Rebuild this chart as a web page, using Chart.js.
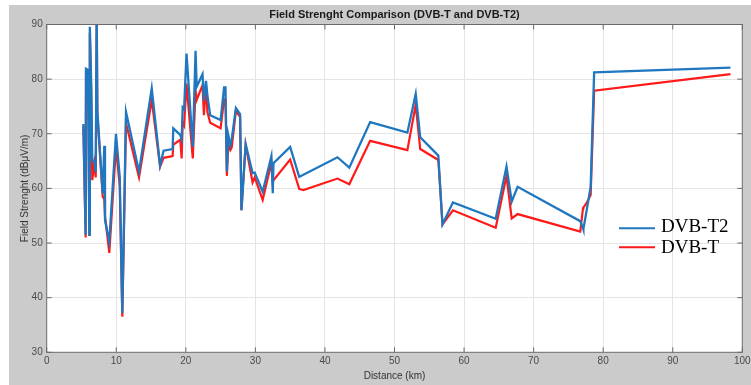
<!DOCTYPE html>
<html><head><meta charset="utf-8">
<script src="https://cdn.jsdelivr.net/npm/chart.js@4"></script>
<style>html,body{margin:0;padding:0;background:#fff;} canvas{display:block;}</style>
</head><body>
<canvas id="c" width="751" height="385"></canvas>
<script>
const distanceKm = [5.27,5.6,5.65,5.95,6.13,6.2,6.4,6.55,6.85,7.05,7.19,7.28,8.05,8.28,8.38,9.0,9.96,10.5,10.87,11.4,13.27,15.1,16.3,16.8,18.1,18.2,19.2,19.4,19.55,19.75,20.1,21.0,21.4,21.56,22.4,22.6,22.9,23.1,23.5,25.0,25.5,25.7,25.9,26.1,26.4,26.6,27.2,27.8,28.0,28.6,29.6,29.9,31.05,32.3,32.5,32.6,35.0,36.3,36.9,41.8,43.5,46.5,51.85,53.05,53.7,56.3,56.9,58.4,64.55,66.1,66.85,67.7,76.7,77.1,77.15,77.6,78.2,78.7,98.3];
const dvbT2 = [71.8,51.5,81.9,81.7,51.5,89.6,78.9,65.2,64.9,63.0,93.0,74.3,59.1,67.8,54.2,50.25,70.0,62.1,37.2,74.0,63.05,78.3,64.2,66.9,67.2,71.0,69.8,69.0,74.8,74.5,84.7,67.6,85.2,78.6,80.9,76.0,79.7,77.0,73.4,72.5,78.5,78.5,63.1,69.8,68.0,69.0,74.7,73.6,56.0,68.1,62.8,62.9,59.4,65.9,59.1,64.6,67.6,62.1,62.5,65.7,63.8,72.15,70.2,77.3,69.35,66.0,53.4,57.45,54.45,64.0,57.6,60.3,54.0,52.7,52.5,55.8,60.3,81.25,82.1];
const dvbT = [71.3,51.0,81.1,80.8,51.5,88.5,77.5,61.5,64.5,62.0,91.0,73.5,58.5,58.0,55.0,48.2,67.6,60.4,36.5,72.0,62.0,76.2,64.0,65.6,65.9,68.0,68.9,65.5,72.0,71.5,79.2,65.5,78.0,76.2,78.9,73.4,78.9,74.0,72.0,71.0,76.3,76.3,62.3,68.0,67.0,67.5,74.2,73.1,56.0,68.0,61.1,62.0,57.9,64.7,61.1,61.5,65.3,59.9,59.7,61.8,60.75,68.7,67.0,75.3,67.2,65.2,53.4,56.0,52.8,62.3,54.5,55.3,52.1,56.35,56.5,57.3,58.8,77.9,80.9];
const xTicks = [0,10,20,30,40,50,60,70,80,90,100];
const yTicks = [30,40,50,60,70,80,90];
const seriesNames = ['DVB-T2','DVB-T'];
const seriesColors = ['#1f77bf','#ff1a1a'];

const toPts = ys => distanceKm.map((x,i)=>({x:x,y:ys[i]}));

const bgPlugin = {
  id:'bg',
  beforeDraw(chart){
    const {ctx, chartArea:a} = chart;
    ctx.save();
    ctx.fillStyle='#fff'; ctx.fillRect(0,0,chart.width,chart.height);
    ctx.fillStyle='#cbcbcb'; ctx.fillRect(9,5,chart.width-9,chart.height-5);
    ctx.fillStyle='#fff'; ctx.fillRect(a.left,a.top,a.right-a.left,a.bottom-a.top);
    ctx.restore();
  }
};
const framePlugin = {
  id:'frame',
  beforeDatasetsDraw(chart){
    const {ctx, chartArea:a, scales} = chart;
    ctx.save();
    ctx.strokeStyle='#6a6a6a'; ctx.lineWidth=1;
    ctx.strokeRect(a.left,a.top,a.right-a.left,a.bottom-a.top);
    ctx.beginPath();
    xTicks.forEach(v=>{const p=scales.x.getPixelForValue(v);
      ctx.moveTo(p,a.bottom); ctx.lineTo(p,a.bottom-5);
      ctx.moveTo(p,a.top); ctx.lineTo(p,a.top+5);});
    yTicks.forEach(v=>{const p=scales.y.getPixelForValue(v);
      ctx.moveTo(a.left,p); ctx.lineTo(a.left+5,p);
      ctx.moveTo(a.right,p); ctx.lineTo(a.right-5,p);});
    ctx.stroke();
    ctx.restore();
  }
};
const legendPlugin = {
  id:'lgd',
  afterDraw(chart){
    const ctx = chart.ctx;
    ctx.save();
    const rows=[228.3,247.3];
    rows.forEach((y,i)=>{
      ctx.strokeStyle=seriesColors[i]; ctx.lineWidth=2;
      ctx.beginPath(); ctx.moveTo(619,y); ctx.lineTo(655,y); ctx.stroke();
      ctx.fillStyle='#000'; ctx.font='19px "Liberation Serif", "Times New Roman", serif';
      ctx.textBaseline='alphabetic'; ctx.textAlign='left';
      ctx.fillText(seriesNames[i],661,y+3.8+(i?2:0));
    });
    ctx.restore();
  }
};

new Chart(document.getElementById('c'),{
  type:'scatter',
  data:{datasets:[
    {label:seriesNames[0],data:toPts(dvbT2),showLine:true,borderColor:seriesColors[0],backgroundColor:seriesColors[0],borderWidth:2.3,pointRadius:0,tension:0},
    {label:seriesNames[1],data:toPts(dvbT),showLine:true,borderColor:seriesColors[1],backgroundColor:seriesColors[1],borderWidth:2.2,pointRadius:0,tension:0}
  ]},
  options:{
    responsive:false, animation:false, devicePixelRatio:1,
    layout:{padding:{left:9,right:8.7,top:0,bottom:0}},
    plugins:{
      legend:{display:false}, tooltip:{enabled:false},
      title:{display:true,fullSize:false,text:'Field Strenght Comparison (DVB-T and DVB-T2)',
        color:'#1a1a1a',font:{family:'"Liberation Sans", Arial, sans-serif',size:11,weight:'bold'},
        padding:{top:7.9,bottom:3.4}}
    },
    scales:{
      x:{type:'linear',min:0,max:100,
        afterBuildTicks:s=>{s.ticks=xTicks.map(v=>({value:v}));},
        afterFit:s=>{s.height=32.7;s.paddingLeft=0;s.paddingRight=0;},
        grid:{color:'#e4e4e4',drawTicks:false},
        border:{display:false},
        ticks:{padding:3,color:'#4a4a4a',maxRotation:0,font:{family:'"Liberation Sans", Arial, sans-serif',size:10}},
        title:{display:true,text:'Distance (km)',color:'#333',font:{family:'"Liberation Sans", Arial, sans-serif',size:10},padding:{top:0,bottom:3}}
      },
      y:{type:'linear',min:30,max:90,
        afterBuildTicks:s=>{s.ticks=yTicks.map(v=>({value:v}));},
        afterFit:s=>{s.width=37.7;s.paddingTop=0;s.paddingBottom=0;},
        grid:{color:'#e4e4e4',drawTicks:false},
        border:{display:false},
        ticks:{padding:4,color:'#4a4a4a',font:{family:'"Liberation Sans", Arial, sans-serif',size:10}},
        title:{display:true,text:'Field Strenght (dBμV/m)',color:'#333',font:{family:'"Liberation Sans", Arial, sans-serif',size:10},padding:{top:10,bottom:0}}
      }
    }
  },
  plugins:[bgPlugin,framePlugin,legendPlugin]
});
</script>
</body></html>
